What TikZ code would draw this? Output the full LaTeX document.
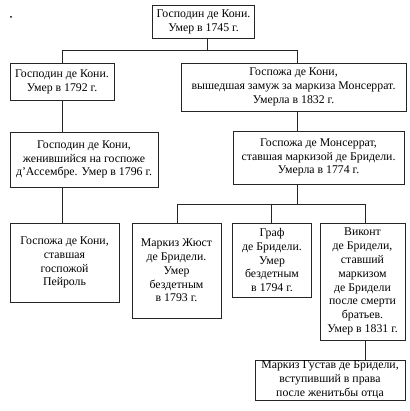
\documentclass[tikz,border=0pt]{standalone}
\usepackage{fontspec}
\setmainfont{Liberation Serif}
\begin{document}
\begin{tikzpicture}[x=1pt,y=-1pt,
  box/.style={draw=black!85, line width=0.8pt, align=center, inner sep=0pt,
    font=\fontsize{11.8}{13.8}\selectfont},
  link/.style={draw=black!85, line width=0.8pt}]
\useasboundingbox (0,0) rectangle (409,411);
\fill (11,17) circle (1pt);
\node[box, minimum width=102pt, minimum height=33pt] (top) at (203.5,21.5) {Господин де Кони.\\Умер в 1745 г.};
\node[box, minimum width=104pt, minimum height=37pt] (A) at (62,81.5) {Господин де Кони.\\Умер в 1792 г.};
\node[box, minimum width=225pt, minimum height=48pt] (B) at (293.5,87) {Госпожа де Кони,\\вышедшая замуж за маркиза Монсеррат.\\Умерла в 1832 г.};
\node[box, minimum width=148pt, minimum height=55pt] (C) at (84,159.5) {Господин де Кони,\\женившийся на госпоже\\д’Ассембре. Умер в 1796 г.};
\node[box, minimum width=171pt, minimum height=53pt] (D) at (318.5,157.5) {Госпожа де Монсеррат,\\ставшая маркизой де Бридели.\\Умерла в 1774 г.};
\node[box, minimum width=109pt, minimum height=79pt] (E) at (64.5,262.5) {Госпожа де Кони,\\ставшая\\госпожой\\Пейроль};
\node[box, minimum width=89pt, minimum height=95pt] (F) at (176.5,270.5) {Маркиз Жюст\\де Бридели.\\Умер\\бездетным\\в 1793 г.};
\node[box, minimum width=79pt, minimum height=74pt] (G) at (272,260) {Граф\\де Бридели.\\Умер\\бездетным\\в 1794 г.};
\node[box, minimum width=85pt, minimum height=117pt] (H) at (362.5,281.5) {Виконт\\де Бридели,\\ставший\\маркизом\\де Бридели\\после смерти\\братьев.\\Умер в 1831 г.};
\node[box, minimum width=150pt, minimum height=40pt] (I) at (330,380) {Маркиз Густав де Бридели,\\вступивший в права\\после женитьбы отца};
\coordinate (j1) at (207,50);
\coordinate (kA) at (62,50);
\coordinate (kB) at (297,50);
\coordinate (j2) at (297,204);
\coordinate (kF) at (177,204);
\coordinate (kG) at (271,204);
\coordinate (kH) at (365,204);
\draw[link] (top.south -| j1) -- (j1);
\draw[link] (kA |- A.north) -- (kA) -- (kB) -- (kB |- B.north);
\draw[link] (A.south) -- (C.north -| A.south);
\draw[link] (kB |- B.south) -- (kB |- D.north);
\draw[link] (A.south |- C.south) -- (A.south |- E.north);
\draw[link] (j2 |- D.south) -- (j2);
\draw[link] (kF |- F.north) -- (kF) -- (kH) -- (kH |- H.north);
\draw[link] (kG) -- (kG |- G.north);
\draw[link] (kH |- H.south) -- (kH |- I.north);
\end{tikzpicture}
\end{document}
